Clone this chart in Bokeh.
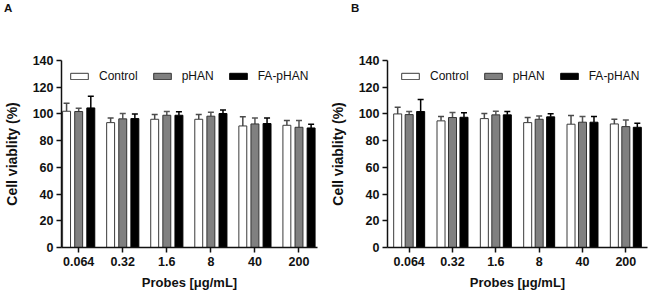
from bokeh.plotting import figure
from bokeh.models import (Range1d, FixedTicker, Whisker, TeeHead, ColumnDataSource,
                          Legend, LegendItem, Div)
from bokeh.layouts import row, column
from bokeh.embed import file_html
from bokeh.resources import INLINE
import numpy as np

# Probe concentrations (µg/mL) and groups
conc = ["0.064", "0.32", "1.6", "8", "40", "200"]
series = ["Control", "pHAN", "FA-pHAN"]
y_ticks = [0, 20, 40, 60, 80, 100, 120, 140]

# Panel A: mean viability (%) and upper SD
a_control = [102.0, 93.5, 96.0, 96.0, 91.0, 91.5]
a_control_err = [6.0, 3.5, 3.5, 3.5, 6.8, 3.5]
a_phan = [101.8, 96.3, 99.0, 98.3, 92.5, 90.0]
a_phan_err = [2.5, 4.0, 2.8, 3.0, 4.5, 5.0]
a_fa = [104.5, 96.5, 99.0, 100.3, 92.8, 89.5]
a_fa_err = [8.7, 3.5, 2.7, 2.7, 4.2, 2.8]

# Panel B: mean viability (%) and upper SD
b_control = [100.0, 94.8, 96.5, 93.5, 92.3, 92.5]
b_control_err = [5.0, 3.3, 3.8, 3.8, 6.5, 3.5]
b_phan = [99.5, 97.3, 99.3, 96.0, 93.8, 90.5]
b_phan_err = [2.3, 3.7, 2.7, 2.5, 4.2, 5.0]
b_fa = [101.8, 97.5, 99.3, 97.8, 93.8, 90.0]
b_fa_err = [9.0, 3.3, 2.5, 2.3, 4.2, 3.0]

FONT = "Liberation Sans"
fills = ["#ffffff", "#808080", "#000000"]
lines = ["#3a3a3a", "#333333", "#000000"]
err_colors = ["#4a4a4a", "#555555", "#000000"]

HEADER_H = 20


def panel(letter, values, errs, x_range, offset, bar_w, width, border_left,
          border_right, legend_x, letter_x):
    p = figure(width=width, height=295 - HEADER_H, output_backend="svg",
               toolbar_location=None,
               x_range=Range1d(*x_range), y_range=Range1d(0, 140),
               min_border_left=border_left, min_border_right=border_right,
               min_border_top=60 - HEADER_H, min_border_bottom=48)
    p.outline_line_color = None
    p.grid.visible = False
    p.background_fill_color = None
    p.border_fill_color = "white"

    idx = np.arange(len(conc))
    items = []
    for k, (name, v, e) in enumerate(zip(series, values, errs)):
        v = np.array(v)
        e = np.array(e)
        src = ColumnDataSource(dict(x=idx + (k - 1) * offset, top=v, upper=v + e))
        w = Whisker(source=src, base="x", lower="top", upper="upper",
                    dimension="height", line_color=err_colors[k], line_width=1.5,
                    lower_head=None,
                    upper_head=TeeHead(size=6, line_color=err_colors[k], line_width=1.5))
        p.add_layout(w)
        r = p.vbar(x="x", top="top", width=bar_w, bottom=0, source=src,
                   fill_color=fills[k], line_color=lines[k], line_width=1)
        items.append(LegendItem(label=name, renderers=[r]))

    # legend swatches are drawn at 80% of the glyph box
    leg = Legend(items=items, orientation="horizontal", location=(legend_x - 2, 164),
                 glyph_width=22, glyph_height=8, label_standoff=9, spacing=13,
                 padding=0, margin=0, border_line_color=None,
                 background_fill_alpha=0, label_height=14,
                 label_text_font=FONT, label_text_font_size="12px",
                 label_text_color="#111111")
    p.add_layout(leg, "center")

    # axes
    p.xaxis.ticker = FixedTicker(ticks=list(idx))
    p.xaxis.major_label_overrides = {int(i): c for i, c in zip(idx, conc)}
    p.yaxis.ticker = FixedTicker(ticks=y_ticks)
    for ax in (p.xaxis[0], p.yaxis[0]):
        ax.axis_line_color = "#111111"
        ax.axis_line_width = 1.5
        ax.major_tick_line_color = "#111111"
        ax.major_tick_line_width = 1.5
        ax.major_tick_in = 0
        ax.major_tick_out = 5
        ax.minor_tick_line_color = None
        ax.major_label_text_font = FONT
        ax.major_label_text_font_style = "bold"
        ax.major_label_text_font_size = "12.5px"
        ax.major_label_text_color = "#111111"
        ax.axis_label_text_font = FONT
        ax.axis_label_text_font_style = "bold"
        ax.axis_label_text_color = "#111111"
    p.xaxis.major_label_standoff = 4
    p.yaxis.major_label_standoff = 3
    p.xaxis.axis_label = "Probes [\u03bcg/mL]"
    p.xaxis.axis_label_text_font_size = "13px"
    p.xaxis.axis_label_standoff = 6
    p.yaxis.axis_label = "Cell viablity (%)"
    p.yaxis.axis_label_text_font_size = "14px"
    p.yaxis.axis_label_standoff = 10

    # panel letter above the plot
    head = Div(text=(f'<div style="margin:3px 0 0 {letter_x}px; font-family:\'{FONT}\';'
                     f' font-weight:bold; font-size:11.5px; line-height:1; color:#111111;">'
                     f'{letter}</div>'),
               width=width, height=HEADER_H, margin=0)
    return column(head, p, spacing=0)


pa = panel("A", [a_control, a_phan, a_fa], [a_control_err, a_phan_err, a_fa_err],
           (-0.39, 5.42), 0.275, 0.18, 324, 57, 7, 9, 4)
pb = panel("B", [b_control, b_phan, b_fa], [b_control_err, b_phan_err, b_fa_err],
           (-0.5, 5.5), 0.265, 0.185, 325, 63, 2, 14, 27)

layout = row(pa, pb, spacing=0)
open("out.html", "w").write(file_html(layout, INLINE))
